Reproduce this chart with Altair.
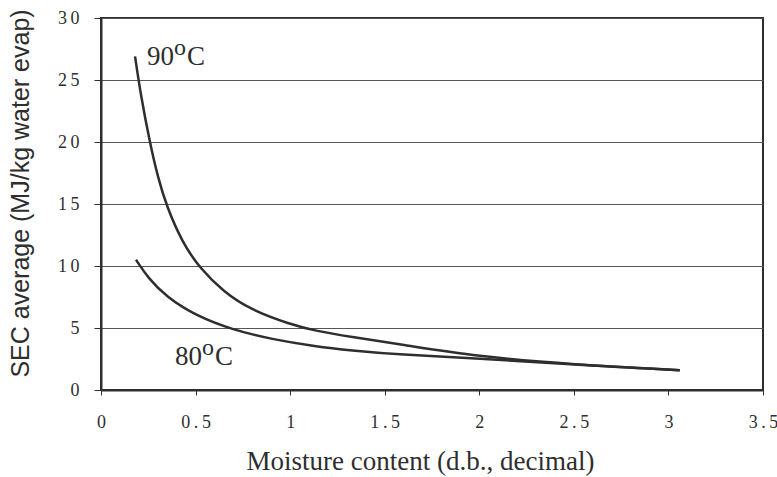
import altair as alt
import pandas as pd

# Curve readings (moisture content, SEC average)
x_90 = [0.18, 0.21, 0.259, 0.30, 0.347, 0.43, 0.523, 0.65, 0.787, 1.0, 1.139, 1.315, 1.58, 1.985, 2.5, 3.06]
y_90 = [26.9, 23.8, 19.9, 17.2, 14.8, 11.9, 9.8, 7.9, 6.5, 5.3, 4.75, 4.3, 3.7, 2.7, 2.05, 1.6]

x_80 = [0.185, 0.25, 0.347, 0.5, 0.699, 0.9, 1.139, 1.315, 1.58, 1.985, 2.5, 3.06]
y_80 = [10.5, 9.0, 7.5, 6.0, 4.84, 4.1, 3.5, 3.2, 2.85, 2.55, 2.05, 1.6]

series_names = ["90", "80"]
label_x = [0.243, 0.391]
label_y = [26.2, 2.0]

rows = []
for s, xs, ys in [("90", x_90, y_90), ("80", x_80, y_80)]:
    for i, (a, b) in enumerate(zip(xs, ys)):
        rows.append({"series": s, "mc": a, "sec": b, "order": i})
df = pd.DataFrame(rows)

lab = pd.DataFrame({"series": series_names, "mc": label_x, "sec": label_y})

ink = "#2e2e2e"

x_scale = alt.Scale(domain=[0, 3.5], nice=False)
y_scale = alt.Scale(domain=[0, 30], nice=False)

spaced = "join(split(format(datum.value, '~g'), ''), '\u2009')"

x_enc = alt.X(
    "mc:Q",
    scale=x_scale,
    axis=alt.Axis(
        title="Moisture content (d.b., decimal)",
        values=[0, 0.5, 1, 1.5, 2, 2.5, 3, 3.5],
        labelExpr=spaced,
        grid=False,
        domain=True,
        domainColor=ink,
        domainWidth=2,
        tickColor=ink,
        tickSize=5,
        labelFont="Liberation Serif",
        labelFontSize=18,
        labelColor=ink,
        labelPadding=18,
        labelFlush=False,
        labelOverlap=False,
        titleFont="Liberation Serif",
        titleFontSize=27,
        titleFontWeight="normal",
        titleColor=ink,
        titleX=319,
        titleY=79,
        titleAlign="center",
        titleBaseline="alphabetic",
    ),
)
y_enc = alt.Y(
    "sec:Q",
    scale=y_scale,
    axis=alt.Axis(
        title="SEC average (MJ/kg water evap)",
        values=[0, 5, 10, 15, 20, 25, 30],
        labelExpr=spaced,
        grid=True,
        gridColor="#555555",
        gridWidth=1,
        domain=True,
        domainColor=ink,
        domainWidth=2,
        tickColor=ink,
        tickSize=7,
        labelFont="Liberation Serif",
        labelFontSize=18,
        labelColor=ink,
        labelPadding=15,
        labelFlush=False,
        labelOverlap=False,
        titleFont="Liberation Sans",
        titleFontSize=25,
        titleFontWeight="normal",
        titleColor=ink,
        titleX=-73,
        titleY=175,
        titleAlign="center",
        titleBaseline="alphabetic",
        titleAngle=-90,
    ),
)

lines = alt.Chart(df).mark_line(color=ink, strokeWidth=2.5, interpolate="basis").encode(
    x=x_enc, y=y_enc, detail="series:N", order="order:Q"
)

base_lab = alt.Chart(lab)
digits = base_lab.mark_text(
    align="left", baseline="alphabetic", font="Liberation Serif", fontSize=27, color=ink
).encode(x=x_enc, y=y_enc, text="series:N")
sup = base_lab.mark_text(
    align="left", baseline="alphabetic", font="Liberation Serif", fontSize=24, color=ink, dx=27, dy=-10
).encode(x=x_enc, y=y_enc, text=alt.value("o"))
cee = base_lab.mark_text(
    align="left", baseline="alphabetic", font="Liberation Serif", fontSize=27, color=ink, dx=40
).encode(x=x_enc, y=y_enc, text=alt.value("C"))

chart = (
    alt.layer(lines, digits, sup, cee)
    .properties(
        width=662,
        height=372,
        autosize=alt.AutoSizeParams(type="none"),
        padding={"left": 101, "top": 18, "right": 14, "bottom": 87},
        background="white",
    )
    .configure_view(stroke=ink, strokeWidth=2)
    .configure_axisY(
        labelFont="Liberation Serif",
        labelFontSize=18,
        labelColor=ink,
        labelExpr=spaced,
    )
    .configure_axisLeft(
        labelFont="Liberation Serif",
        labelFontSize=18,
        labelColor=ink,
        labelExpr=spaced,
    )
)

chart.save("out.html", embed_options={"renderer": "svg", "actions": False})
